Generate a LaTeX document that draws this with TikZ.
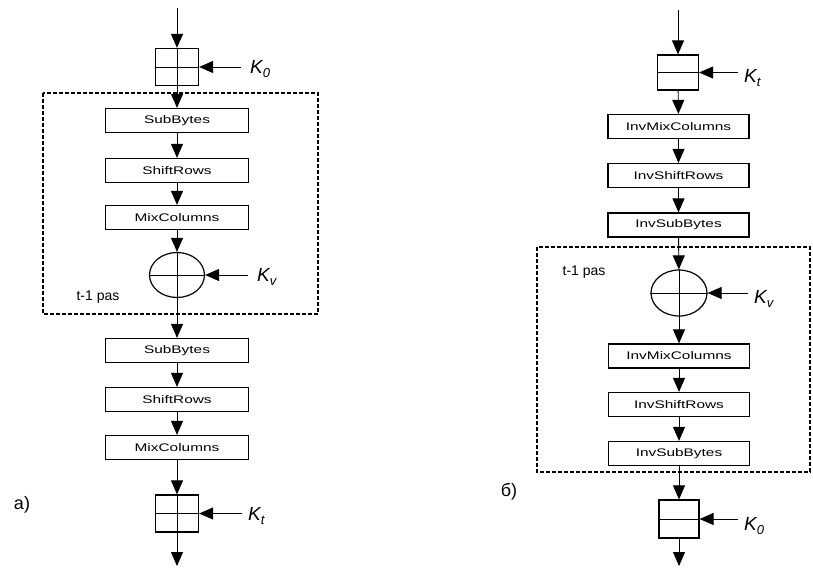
\documentclass[tikz,border=0pt]{standalone}
\usepackage{fontspec}
\setmainfont{Liberation Sans}
\newfontfamily\boxfont[FakeStretch=1.4]{Liberation Sans}
\usetikzlibrary{arrows.meta,shapes.geometric}
\newcommand{\klab}[1]{\fontsize{19}{21}\selectfont\itshape K\raisebox{-0.45ex}{\fontsize{13}{13}\selectfont #1}}
\begin{document}
\begin{tikzpicture}[x=1pt,y=-1pt,
  op/.style={draw,line width=1.2pt,minimum width=143pt,minimum height=24pt,inner sep=0pt,
    font=\boxfont\fontsize{11}{12}\selectfont},
  kbox/.style={draw,line width=1.2pt,minimum width=43pt,minimum height=37pt,inner sep=0pt},
  xorc/.style={draw,ellipse,line width=1.2pt,minimum width=55pt,minimum height=45pt,inner sep=0pt},
  flow/.style={line width=0.9pt,-{Triangle[length=14pt,width=12pt]}},
  dbox/.style={line width=1.1pt,dash pattern=on 4pt off 2pt},
  klabel/.style={inner sep=0pt,anchor=west},
  tlabel/.style={inner sep=0pt,font=\fontsize{14}{16}\selectfont},
  side/.style={inner sep=0pt,font=\fontsize{18}{20}\selectfont}]
\useasboundingbox (0,0) rectangle (813,568);

% ---------- left (a) ----------
\coordinate (ain) at (177,8);
\node[kbox] (ak0) at (177,67) {};
\node[op] (asb1) at (177,120.5) {SubBytes};
\node[op] (asr1) at (177,170.5) {ShiftRows};
\node[op] (amc1) at (177,217.5) {MixColumns};
\node[xorc] (axr) at (177,275) {};
\node[op] (asb2) at (177,350.5) {SubBytes};
\node[op] (asr2) at (177,399.5) {ShiftRows};
\node[op] (amc2) at (177,447.5) {MixColumns};
\node[kbox] (akt) at (177,513.5) {};
\coordinate (aout) at (177,566);

\draw[line width=0.6pt] (ak0.west) -- (ak0.east);
\draw[line width=0.6pt] (axr.west) -- (axr.east);
\draw[line width=0.6pt] (akt.west) -- (akt.east);
\draw[line width=0.6pt] (ak0.north) -- (ak0.south);
\draw[line width=0.6pt] (axr.north) -- (axr.south);
\draw[line width=0.6pt] (akt.north) -- (akt.south);

\draw[flow] (ain) -- (ak0);
\draw[flow] (ak0) -- (asb1);
\draw[flow] (asb1) -- (asr1);
\draw[flow] (asr1) -- (amc1);
\draw[flow] (amc1) -- (axr);
\draw[flow] (axr) -- (asb2);
\draw[flow] (asb2) -- (asr2);
\draw[flow] (asr2) -- (amc2);
\draw[flow] (amc2) -- (akt);
\draw[flow] (akt) -- (aout);

\coordinate (ak0s) at (241,67);
\coordinate (akvs) at (248,275);
\coordinate (akts) at (242,513.5);
\node[klabel] (alk0) at (250,69) {\klab{0}};
\node[klabel] (alkv) at (257,277) {\klab{v}};
\node[klabel] (alkt) at (248,516) {\klab{t}};
\draw[flow] (ak0s) -- (ak0.east);
\draw[flow] (akvs) -- (axr.east);
\draw[flow] (akts) -- (akt.east);

\draw[dbox] (43,93) rectangle (318,314);
\node[tlabel] (apas) at (98,297) {t-1 pas};
\node[side] (alab) at (22,505) {a)};

% ---------- right (b) ----------
\coordinate (bin) at (678,10);
\node[kbox,minimum width=41pt,minimum height=35pt] (bkt) at (678,72.5) {};
\node[op,minimum width=141pt] (bimc1) at (678.5,126.5) {InvMixColumns};
\node[op,minimum width=141pt] (bisr1) at (678.5,175.5) {InvShiftRows};
\node[op,minimum width=141pt] (bisb1) at (678.5,225) {InvSubBytes};
\node[xorc,minimum width=56pt,minimum height=46pt] (bxr) at (679,293) {};
\node[op,minimum width=141pt] (bimc2) at (679,356) {InvMixColumns};
\node[op,minimum width=141pt] (bisr2) at (679,404.5) {InvShiftRows};
\node[op,minimum width=141pt] (bisb2) at (679,453.5) {InvSubBytes};
\node[kbox,minimum width=40pt,minimum height=38pt] (bk0) at (679,519) {};
\coordinate (bout) at (679,566);

\draw[line width=0.6pt] (bkt.west) -- (bkt.east);
\draw[line width=0.6pt] (bxr.west) -- (bxr.east);
\draw[line width=0.6pt] (bxr.north) -- (bxr.south);
\draw[line width=0.6pt] (bk0.west) -- (bk0.east);

\draw[flow] (bin) -- (bkt);
\draw[flow] (bkt) -- (bimc1);
\draw[flow] (bimc1) -- (bisr1);
\draw[flow] (bisr1) -- (bisb1);
\draw[flow] (bisb1) -- (bxr);
\draw[flow] (bxr) -- (bimc2);
\draw[flow] (bimc2) -- (bisr2);
\draw[flow] (bisr2) -- (bisb2);
\draw[flow] (bisb2) -- (bk0);
\draw[flow] (bk0) -- (bout);

\coordinate (bkts) at (738,72.5);
\coordinate (bkvs) at (748,293);
\coordinate (bk0s) at (738,519);
\node[klabel] (blkt) at (744,78) {\klab{t}};
\node[klabel] (blkv) at (754,299) {\klab{v}};
\node[klabel] (blk0) at (744,526) {\klab{0}};
\draw[flow] (bkts) -- (bkt.east);
\draw[flow] (bkvs) -- (bxr.east);
\draw[flow] (bk0s) -- (bk0.east);

\draw[dbox] (537,247) rectangle (810,472);
\node[tlabel] (bpas) at (584,272) {t-1 pas};
\node[side] (blab) at (509,492) {б)};
\end{tikzpicture}
\end{document}
